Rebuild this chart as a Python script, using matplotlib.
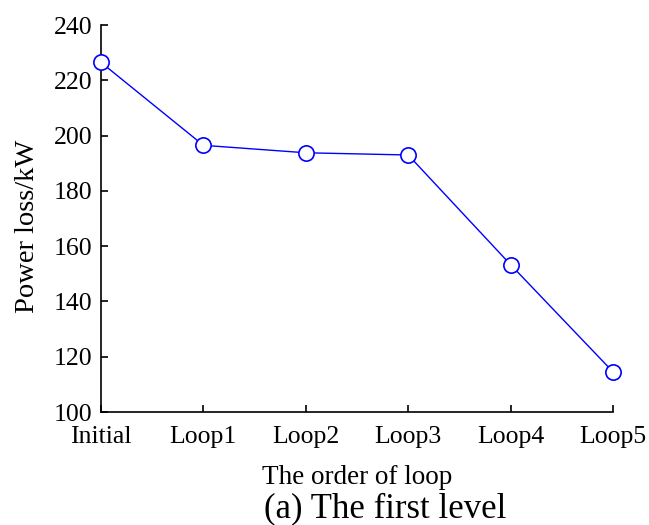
import matplotlib
matplotlib.use('Agg')
import matplotlib.pyplot as plt

# data
loops = ['Initial', 'Loop1', 'Loop2', 'Loop3', 'Loop4', 'Loop5']
power_loss = [226.5, 196.5, 193.8, 193.0, 153.3, 114.5]
y_ticks = [100, 120, 140, 160, 180, 200, 220, 240]

plt.rcParams['font.family'] = ['Liberation Serif', 'DejaVu Serif']
plt.rcParams['mathtext.fontset'] = 'stix'

fig = plt.figure(figsize=(6.49, 5.25), dpi=100)
ax = fig.add_axes([0.1556, 0.2152, 0.789, 0.737])

x = list(range(len(loops)))
ax.plot(x, power_loss, '-o', color='blue', lw=1.0, markersize=11,
        markerfacecolor='white', markeredgecolor='blue', markeredgewidth=1.2,
        clip_on=False, zorder=3)

ax.set_xlim(0, len(loops) - 1)
ax.set_ylim(100, 240)
ax.set_xticks(x)
ax.set_xticklabels(loops)
ax.set_yticks(y_ticks)

for s in ['top', 'right']:
    ax.spines[s].set_visible(False)
for s in ['left', 'bottom']:
    ax.spines[s].set_linewidth(1.2)

ax.tick_params(direction='in', length=5, width=1.2, labelsize=18.5)
ax.tick_params(axis='y', pad=6)
ax.tick_params(axis='x', pad=10)
ax.set_xlabel('The order of loop', fontsize=19.5, labelpad=12)
ax.set_ylabel('Power loss/kW', fontsize=20.5)
ax.yaxis.set_label_coords(-0.12, 0.48)

fig.text(0.594, 0.0152, '(a) The first level', fontsize=25, ha='center', va='baseline')

fig.savefig('out.png', dpi=100)
